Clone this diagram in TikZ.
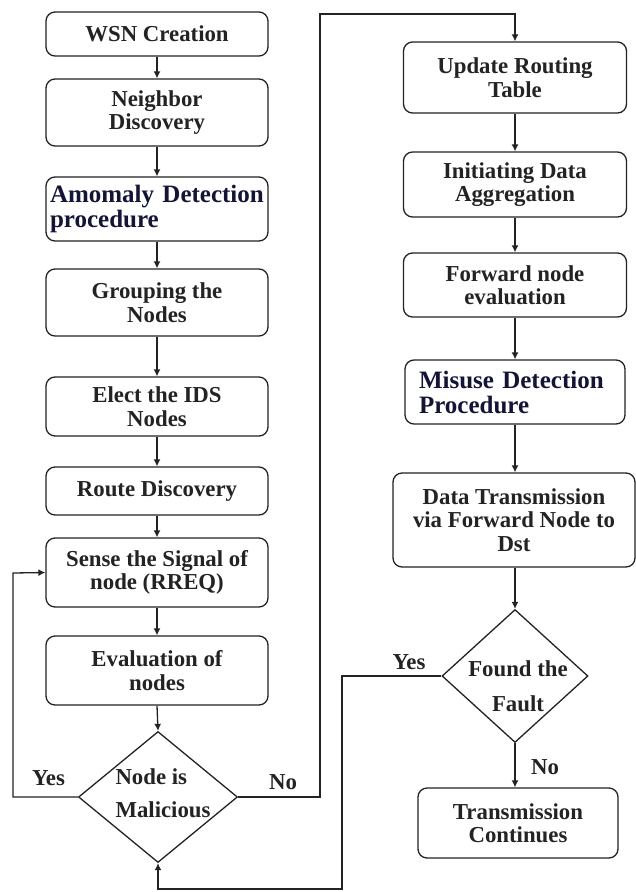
\documentclass[tikz,border=0pt]{standalone}
\usepackage{fontspec}
\setmainfont{Liberation Serif}
\usetikzlibrary{shapes.geometric,arrows.meta}
\definecolor{ink}{RGB}{35,35,35}
\definecolor{navy}{RGB}{20,20,55}
\tikzset{
  box/.style={draw=ink, line width=1.3pt, rounded corners=9pt, align=center,
    inner sep=0pt, text=ink, font=\fontsize{22.8pt}{23.5pt}\selectfont\bfseries},
  bigbox/.style={box, text=navy, align=left, font=\fontsize{25pt}{25pt}\selectfont\bfseries},
  dia/.style={draw=ink, line width=1.3pt, diamond, inner sep=0pt},
  diatext/.style={text=ink, font=\fontsize{22.8pt}{33pt}\selectfont\bfseries, inner sep=0pt},
  lbl/.style={text=ink, font=\fontsize{22.8pt}{23pt}\selectfont\bfseries, inner sep=0pt},
  conn/.style={draw=ink, line width=1.3pt, -{Latex[length=7pt,width=7pt]}},
  plain/.style={draw=ink, line width=1.3pt}
}
\begin{document}
\begin{tikzpicture}[x=1pt,y=-1pt]
\useasboundingbox[fill=white] (0,0) rectangle (636,892);
% left column
\node[box, minimum width=222pt, minimum height=44pt] (wsn) at (157,34) {WSN Creation};
\node[box, minimum width=222pt, minimum height=67pt] (nd) at (157,112.5) {Neighbor\\Discovery};
\node[bigbox, minimum width=222pt, minimum height=64pt, text width=214pt, inner xsep=4pt] (amo) at (157,209) {Amomaly Detection\\procedure};
\node[box, minimum width=222pt, minimum height=67pt] (grp) at (157,302.5) {Grouping the\\Nodes};
\node[box, minimum width=222pt, minimum height=59pt] (ids) at (157,406.5) {Elect the IDS\\Nodes};
\node[box, minimum width=222pt, minimum height=48pt] (rd) at (157,491) {Route Discovery};
\node[box, minimum width=222pt, minimum height=69pt] (sense) at (157,572.5) {Sense the Signal of\\node (RREQ)};
\node[box, minimum width=222pt, minimum height=69pt] (eval) at (157,670.5) {Evaluation of\\nodes};
\node[dia, minimum width=159pt, minimum height=131pt] (mal) at (158,797) {};
\node[diatext, align=left] (maltxt) at (163,793) {Node is\\Malicious};
% right column
\node[box, minimum width=223pt, minimum height=71pt] (urt) at (515,77.5) {Update Routing\\Table};
\node[box, minimum width=223pt, minimum height=65pt] (ida) at (515,184.5) {Initiating Data\\Aggregation};
\node[box, minimum width=223pt, minimum height=64pt] (fne) at (515,285) {Forward node\\evaluation};
\node[bigbox, minimum width=220pt, minimum height=64pt, text width=192pt, inner xsep=14pt] (mdp) at (515,392) {Misuse Detection\\Procedure};
\node[box, minimum width=242pt, minimum height=94pt] (dtx) at (514,520) {Data Transmission\\via Forward Node to\\Dst};
\node[dia, minimum width=146pt, minimum height=133pt] (fault) at (515,676) {};
\node[diatext, align=center, font=\fontsize{22.8pt}{35pt}\selectfont\bfseries] (fltxt) at (518,686) {Found the\\Fault};
\node[box, minimum width=200pt, minimum height=70pt] (tc) at (518,823) {Transmission\\Continues};
% coordinates
\coordinate (yl) at (13,797);
\coordinate (ylt) at (13,573);
\coordinate (nr) at (320,797);
\coordinate (nrt) at (320,14);
\coordinate (ntop) at (515,14);
\coordinate (fy) at (342,676);
\coordinate (fyb) at (342,889);
\coordinate (fbl) at (158,889);
% connectors
\draw[conn] (wsn) -- (nd);
\draw[conn] (nd) -- (amo);
\draw[conn] (amo) -- (grp);
\draw[conn] (grp) -- (ids);
\draw[conn] (ids) -- (rd);
\draw[conn] (rd) -- (sense);
\draw[conn] (sense) -- (eval);
\draw[conn] (eval.south) -- (mal.north);
\draw[conn] (mal.west) -- (yl) -- (ylt) -- (sense.west);
\draw[conn] (mal.east) -- (nr) -- (nrt) -- (ntop) -- (urt.north);
\draw[conn] (urt) -- (ida);
\draw[conn] (ida) -- (fne);
\draw[conn] (fne) -- (mdp);
\draw[conn] (mdp.south) -- (mdp.south |- dtx.north);
\draw[conn] (dtx.south -| fault.north) -- (fault.north);
\draw[conn] (fault.south) -- (fault.south |- tc.north);
\draw[conn] (fault.west) -- (fy) -- (fyb) -- (fbl) -- (mal.south);
% labels
\node[lbl] (yes1) at (48.5,778) {Yes};
\node[lbl] (no1) at (283,782) {No};
\node[lbl] (yes2) at (409,662) {Yes};
\node[lbl] (no2) at (545,767) {No};
\end{tikzpicture}
\end{document}
